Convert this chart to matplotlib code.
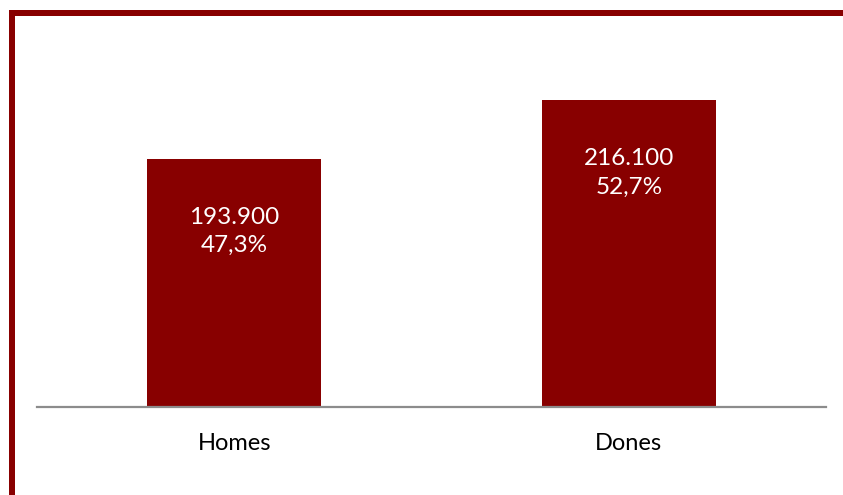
import matplotlib.pyplot as plt
import matplotlib.patches as patches

categories = ["Homes", "Dones"]
values = [193900, 216100]
labels = ["193.900\n47,3%", "216.100\n52,7%"]

W, H = 843, 495
red = "#880000"

fig = plt.figure(figsize=(W / 100, H / 100), dpi=100)
# axes placed in pixel terms: x 37..826, y 11..407 (from top)
ax = fig.add_axes([37 / W, (H - 407) / H, (826 - 37) / W, (407 - 11) / H])

x = range(len(categories))
bars = ax.bar(x, values, width=0.44, color=red, zorder=2)
ax.set_xlim(-0.5, 1.5)
ax.set_ylim(100000, 250000)

for b, lab in zip(bars, labels):
    ax.annotate(lab, xy=(b.get_x() + b.get_width() / 2, b.get_height()),
                xytext=(0, -52), textcoords="offset points",
                ha="center", va="center", color="white", fontsize=17.5,
                family="Lato", linespacing=1.45)

ax.set_xticks(list(x))
ax.set_xticklabels(categories, fontsize=17, family="Lato")
ax.tick_params(axis="x", length=0, pad=19)
ax.set_yticks([])
for s in ["top", "right", "left"]:
    ax.spines[s].set_visible(False)
ax.spines["bottom"].set_color("#8c8c8c")
ax.spines["bottom"].set_linewidth(1.6)

# dark red frame at top and left
fig.add_artist(patches.Rectangle((9 / W, 0), 6 / W, (H - 10) / H,
                                 transform=fig.transFigure, color=red, lw=0))
fig.add_artist(patches.Rectangle((9 / W, (H - 16) / H), (W - 9) / W, 6 / H,
                                 transform=fig.transFigure, color=red, lw=0))

fig.savefig("out.png", dpi=100)
